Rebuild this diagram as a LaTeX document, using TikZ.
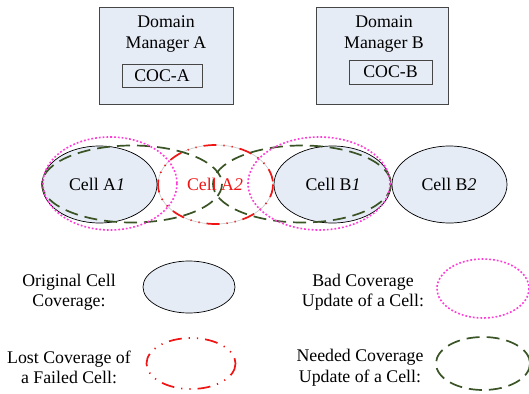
\documentclass[tikz,border=0pt]{standalone}
\usepackage{fontspec}
\setmainfont{Liberation Serif}
\usetikzlibrary{shapes.geometric}
\definecolor{cellfill}{RGB}{230,236,246}
\definecolor{boxline}{RGB}{70,70,70}
\definecolor{needgreen}{RGB}{58,84,38}
\definecolor{badpink}{RGB}{255,60,215}
\definecolor{lostred}{RGB}{240,20,20}
\tikzset{
  txt/.style={font=\fontsize{17.8}{20.5}\selectfont, align=center, inner sep=0pt},
  dmbox/.style={draw=boxline, fill=cellfill, line width=0.9pt},
  cocbox/.style={draw=boxline, fill=cellfill, line width=0.9pt},
  origcell/.style={draw=black, fill=cellfill, line width=0.7pt},
  badcov/.style={draw=badpink, line width=1.6pt, dash pattern=on 1.8pt off 2.0pt},
  needcov/.style={draw=needgreen, line width=1.7pt, dash pattern=on 13pt off 7pt},
  lostcov/.style={draw=lostred, line width=1.7pt, dash pattern=on 13pt off 7pt on 1.2pt off 7pt on 1.2pt off 7pt},
}
\begin{document}
\begin{tikzpicture}[x=1pt,y=-1pt]
\useasboundingbox (0,0) rectangle (529,393);

% domain managers
\node[dmbox, minimum width=134pt, minimum height=97pt] (dmA) at (166,55.5) {};
\node[txt] (dmAt) at (166,34) {Domain\\Manager A};
\node[cocbox, minimum width=80pt, minimum height=23pt, txt] (cocA) at (162,75.5) {COC-A};
\node[dmbox, minimum width=132pt, minimum height=97pt] (dmB) at (382,55.5) {};
\node[txt] (dmBt) at (384,34) {Domain\\Manager B};
\node[cocbox, minimum width=83pt, minimum height=24pt, txt] (cocB) at (390.5,72) {COC-B};

% original cell coverage
\fill[cellfill] (99.5,184.5) ellipse (57.5 and 38.5);
\fill[cellfill] (332.5,184.5) ellipse (58.5 and 38.5);
\fill[cellfill] (449.5,184.5) ellipse (57.5 and 38.5);
\draw[origcell] (99.5,184.5) ellipse (57.5 and 38.5);
\draw[origcell] (332.5,184.5) ellipse (58.5 and 38.5);
\draw[origcell] (449.5,184.5) ellipse (57.5 and 38.5);

% failed cell
\draw[gray!45, line width=0.6pt] (215.5,184.5) ellipse (57.5 and 39.5);
\draw[lostcov] (215.5,184.5) ellipse (57.5 and 39.5);

% needed and bad coverage updates
\draw[needcov] (132,184) ellipse (90 and 38.5);
\draw[needcov] (302,184) ellipse (89 and 38.5);
\draw[badcov] (110,183.5) ellipse (67 and 46.5);
\draw[badcov] (319,183.5) ellipse (71 and 46.5);

\node[txt] (cA1) at (97,184) {Cell A\textit{1}};
\node[txt, text=lostred] (cA2) at (215,184) {Cell A\textit{2}};
\node[txt] (cB1) at (333,184) {Cell B\textit{1}};
\node[txt] (cB2) at (449,184) {Cell B\textit{2}};

% legend
\node[txt] (l1) at (69,292) {Original Cell\\Coverage:};
\draw[origcell] (189,287) ellipse (46 and 26);
\node[txt] (l2) at (363,292) {Bad Coverage\\Update of a Cell:};
\draw[badcov] (483,288.5) ellipse (46 and 29.5);
\node[txt] (l3) at (69,367.5) {Lost Coverage of\\a Failed Cell:};
\draw[lostcov] (191,363.5) ellipse (44.5 and 25.5);
\node[txt] (l4) at (360,367.5) {Needed Coverage\\Update of a Cell:};
\draw[needcov] (483,363.5) ellipse (47 and 26.5);
\end{tikzpicture}
\end{document}
